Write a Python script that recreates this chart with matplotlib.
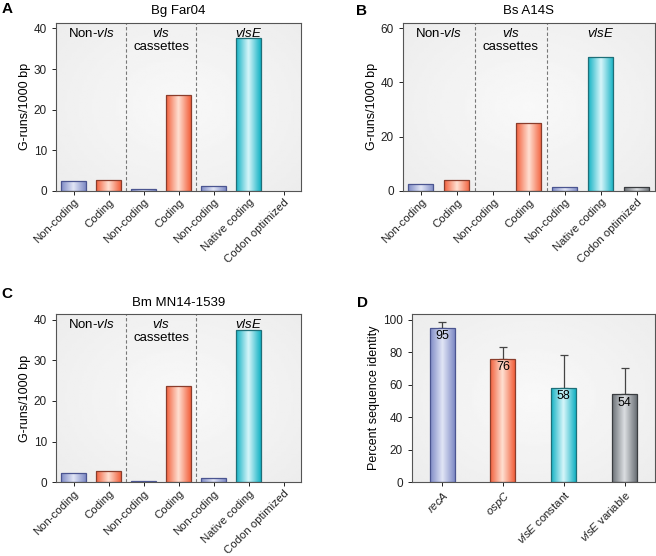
import numpy as np
import matplotlib
matplotlib.use('Agg')
import matplotlib.pyplot as plt
from matplotlib.colors import LinearSegmentedColormap, to_rgb

plt.rcParams['font.family'] = ['Liberation Sans', 'DejaVu Sans']
plt.rcParams['mathtext.fontset'] = 'custom'
plt.rcParams['mathtext.rm'] = 'Liberation Sans'
plt.rcParams['mathtext.it'] = 'Liberation Sans:italic'
plt.rcParams['font.size'] = 8

# data
categories = ['Non-coding', 'Coding', 'Non-coding', 'Coding',
              'Non-coding', 'Native coding', 'Codon optimized']
bar_kinds = ['blue', 'orange', 'blue', 'orange', 'blue', 'cyan', 'grey']
bg_far04 = [2.4, 2.8, 0.4, 23.7, 1.3, 37.7, 0.0]
bs_a14s = [2.5, 4.2, 0.0, 25.0, 1.5, 49.5, 1.5]
bm_mn14 = [2.4, 2.7, 0.4, 23.7, 1.1, 37.5, 0.0]
groups = ['Non-$\\mathit{vls}$', '$\\mathit{vls}$\ncassettes', '$\\mathit{vlsE}$']

genes = ['$\\mathit{recA}$', '$\\mathit{ospC}$', '$\\mathit{vlsE}$ constant', '$\\mathit{vlsE}$ variable']
gene_kinds = ['blue', 'orange', 'cyan', 'grey']
identity = [95, 76, 58, 54]
identity_err = [3.5, 7, 20, 16]

palette = {
    'blue': ('#7f8bc6', '#e2e6f6', '#4b5590'),
    'orange': ('#f2603c', '#ffe0d2', '#8a3d2c'),
    'cyan': ('#14b2c4', '#d8f6fa', '#1f6f78'),
    'grey': ('#6c7177', '#dcdfe2', '#3a3d40'),
}

fig = plt.figure(figsize=(6.56, 5.56), dpi=100)


def background(ax):
    yy, xx = np.mgrid[-1:1:100j, -1:1:100j]
    r = np.sqrt(xx ** 2 + (yy * 0.9) ** 2)
    img = 0.975 - 0.05 * np.clip(r / 1.4, 0, 1)
    ax.imshow(img, cmap='gray', vmin=0, vmax=1, extent=[0, 1, 0, 1],
              transform=ax.transAxes, aspect='auto', zorder=0, interpolation='bilinear')


def shade_bars(ax, bars, kinds):
    for b, k in zip(bars, kinds):
        dark, light, edge = palette[k]
        cmap = LinearSegmentedColormap.from_list(
            k, [to_rgb(dark), to_rgb(light), to_rgb(dark)])
        x0, y0 = b.get_x(), b.get_y()
        w, h = b.get_width(), b.get_height()
        if h <= 0:
            b.set_visible(False)
            continue
        vals = np.linspace(0, 1, 64)
        im = ax.imshow(vals[np.newaxis, :], cmap=cmap, aspect='auto',
                       extent=[x0, x0 + w, y0, y0 + h], zorder=2,
                       interpolation='bilinear')
        im.set_clip_path(b)
        b.set_facecolor('none')
        b.set_edgecolor(edge)
        b.set_linewidth(0.9)
        b.set_zorder(3)


def style_axes(ax):
    for s in ax.spines.values():
        s.set_color('#555555')
        s.set_linewidth(0.8)
    ax.tick_params(colors='#222222', width=0.7, length=3, labelsize=8.5)
    ax.tick_params(axis='x', pad=1.5, labelsize=8.2)


def grun_panel(rect, values, ymax, yticks, title, letter, lpos):
    ax = fig.add_axes(rect)
    background(ax)
    x = np.arange(len(categories))
    bars = ax.bar(x, values, width=0.7)
    shade_bars(ax, bars, bar_kinds)
    ax.set_xlim(-0.5, 6.5)
    ax.set_ylim(0, ymax)
    ax.set_yticks(yticks)
    ax.set_xticks(x)
    ax.set_xticklabels(categories, rotation=45, ha='right', rotation_mode='anchor')
    for xv in (1.5, 3.5):
        ax.axvline(xv, color='#777777', lw=0.8, ls=(0, (3, 2)), zorder=1)
    for gx, g in zip((0.5, 2.5, 5.0), groups):
        ax.text(gx, 0.975, g, transform=ax.get_xaxis_transform(), ha='center',
                va='top', fontsize=9.5, linespacing=1.1)
    ax.set_ylabel('G-runs/1000 bp', fontsize=9, labelpad=2)
    ax.set_title(title, fontsize=9.5, pad=6)
    style_axes(ax)
    fig.text(lpos[0], lpos[1], letter, fontsize=11, fontweight='bold', va='top')
    return ax


grun_panel([0.0854, 0.6565, 0.3735, 0.3027], bg_far04, 41.4, [0, 10, 20, 30, 40],
           'Bg Far04', 'A', (0.002, 0.996))
grun_panel([0.614, 0.6565, 0.384, 0.3027], bs_a14s, 62.0, [0, 20, 40, 60],
           'Bs A14S', 'B', (0.542, 0.993))
grun_panel([0.0854, 0.1326, 0.3735, 0.3027], bm_mn14, 41.4, [0, 10, 20, 30, 40],
           'Bm MN14-1539', 'C', (0.002, 0.484))

# panel D
rect = [0.6276, 0.1326, 0.371, 0.3027]
ax = fig.add_axes(rect)
background(ax)
x = np.arange(len(genes))
bars = ax.bar(x, identity, width=0.41)
shade_bars(ax, bars, gene_kinds)
ax.errorbar(x, identity, yerr=[np.zeros(len(x)), identity_err], fmt='none',
            ecolor='#444444', elinewidth=0.9, capsize=3, capthick=0.9, zorder=1.5)
for xi, v in zip(x, identity):
    ax.text(xi, v - 1.5, str(v), ha='center', va='top', fontsize=9, zorder=5)
ax.set_xlim(-0.5, 3.5)
ax.set_ylim(0, 103.5)
ax.set_yticks([0, 20, 40, 60, 80, 100])
ax.set_xticks(x)
ax.set_xticklabels(genes, rotation=45, ha='right', rotation_mode='anchor')
ax.set_ylabel('Percent sequence identity', fontsize=9, labelpad=2)
style_axes(ax)
fig.text(0.544, 0.467, 'D', fontsize=11, fontweight='bold', va='top')

fig.savefig('out.png', dpi=100)
